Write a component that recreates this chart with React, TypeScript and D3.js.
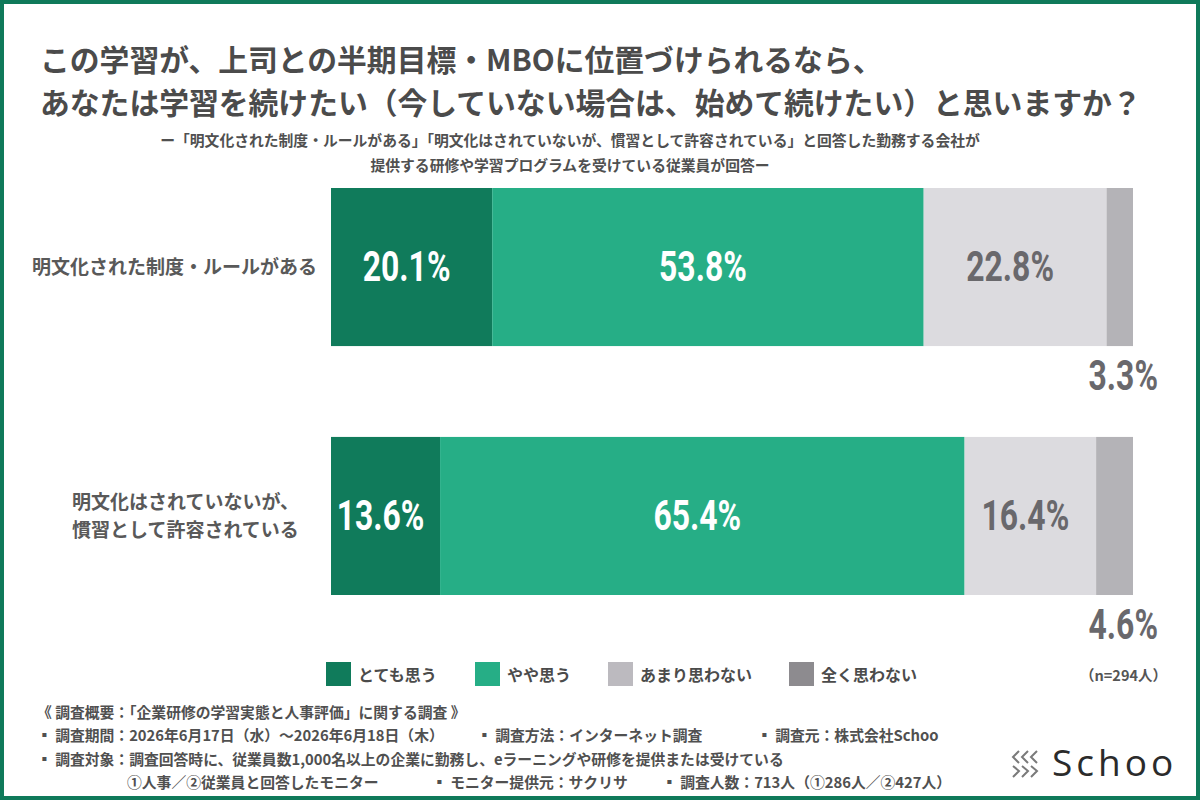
import React from "react";
import * as d3 from "d3";

const titleLines = [
  "この学習が、上司との半期目標・MBOに位置づけられるなら、",
  "あなたは学習を続けたい（今していない場合は、始めて続けたい）と思いますか？",
];
const subtitleLines = [
  "ー「明文化された制度・ルールがある」「明文化はされていないが、慣習として許容されている」と回答した勤務する会社が",
  "提供する研修や学習プログラムを受けている従業員が回答ー",
];
const categories = ["明文化された制度・ルールがある", "明文化はされていないが、慣習として許容されている"];
const categoryLines = [["明文化された制度・ルールがある"], ["明文化はされていないが、", "慣習として許容されている"]];
const seriesNames = ["とても思う", "やや思う", "あまり思わない", "全く思わない"];
const rowRule = [20.1, 53.8, 22.8, 3.3];
const rowCustom = [13.6, 65.4, 16.4, 4.6];
const rows = [rowRule, rowCustom];
const barColors = ["#107b5b", "#26ae86", "#dcdbdf", "#b4b3b7"];
const legendColors = ["#107b5b", "#26ae86", "#bcbabf", "#8d8b8f"];
const labelColors = ["#ffffff", "#ffffff", "#69686c", "#69686c"];
const sampleNote = "（n=294人）";
const footerLines = [
  [{ x: 37, t: "《 調査概要：「企業研修の学習実態と人事評価」に関する調査 》" }],
  [
    { x: 37, t: "▪ 調査期間：2026年6月17日（水）～2026年6月18日（木）" },
    { x: 477, t: "▪ 調査方法：インターネット調査" },
    { x: 757, t: "▪ 調査元：株式会社Schoo" },
  ],
  [{ x: 37, t: "▪ 調査対象：調査回答時に、従業員数1,000名以上の企業に勤務し、eラーニングや研修を提供または受けている" }],
  [
    { x: 127, t: "①人事／②従業員と回答したモニター" },
    { x: 432, t: "▪ モニター提供元：サクリサ" },
    { x: 662, t: "▪ 調査人数：713人（①286人／②427人）" },
  ],
];

const JP = "'Noto Sans CJK JP', 'Noto Sans', sans-serif";

export default function App() {
  const W = 1200;
  const H = 800;
  const x = d3.scaleLinear().domain([0, 100]).range([331, 1133]);
  const y = d3.scaleBand<string>().domain(categories).range([188, 595]).paddingInner(0.365).paddingOuter(0);
  const bw = y.bandwidth();

  const stacks = rows.map((vals) => {
    const cum = d3.cumsum(vals);
    return vals.map((v, i) => ({ v, x0: cum[i] - v, x1: cum[i], i }));
  });

  const legendX: number[] = [];
  let lx = 326;
  seriesNames.forEach((s) => {
    legendX.push(lx);
    lx += 32 + s.length * 16 + 37;
  });

  return (
    <div style={{ position: "absolute", left: 0, top: 0 }}>
      <svg width={W} height={H} style={{ display: "block", background: "#fff" }}>
        <rect x={2} y={2} width={W - 4} height={H - 4} fill="#fff" stroke="#0f7a5a" strokeWidth={4} />
        {titleLines.map((t, i) => (
          <text key={i} x={40} y={71 + i * 43} fontFamily={JP} fontWeight={700} fontSize={29.8} fill="#4b4b4b">
            {t}
          </text>
        ))}
        {subtitleLines.map((t, i) => (
          <text key={i} x={570} y={146 + i * 25} textAnchor="middle" fontFamily={JP} fontWeight={700} fontSize={14.8} fill="#505050">
            {t}
          </text>
        ))}
        {categories.map((c, ci) => {
          const lines = categoryLines[ci];
          const cy = (y(c) as number) + bw / 2;
          return (
            <g key={c}>
              {lines.map((l, li) => {
                const by = cy + 7 + (li - (lines.length - 1) / 2) * 28;
                return lines.length === 1 ? (
                  <text key={li} x={317} y={by} textAnchor="end" fontFamily={JP} fontWeight={700} fontSize={19} fill="#595959">
                    {l}
                  </text>
                ) : (
                  <text key={li} x={72} y={by} textAnchor="start" fontFamily={JP} fontWeight={700} fontSize={19} fill="#595959">
                    {l}
                  </text>
                );
              })}
            </g>
          );
        })}
        {categories.map((c, ci) => {
          const y0 = y(c) as number;
          return (
            <g key={c}>
              {stacks[ci].map((s) => (
                <rect key={s.i} x={x(s.x0)} y={y0} width={x(s.x1) - x(s.x0)} height={bw} fill={barColors[s.i]} />
              ))}
              {stacks[ci].map((s) => {
                const inside = s.v >= 10;
                const lbl = `${s.v.toFixed(1)}%`;
                if (inside) {
                  const cx = (x(s.x0) + x(s.x1)) / 2 - 5;
                  return (
                    <text
                      key={"l" + s.i}
                      transform={`translate(${cx},${y0 + bw / 2 + 14}) scale(0.76,1)`}
                      textAnchor="middle"
                      fontFamily="Roboto, sans-serif"
                      fontWeight={700}
                      fontSize={42}
                      fill={labelColors[s.i]}
                    >
                      {lbl}
                    </text>
                  );
                }
                return (
                  <text
                    key={"l" + s.i}
                    transform={`translate(${x(100) + 25},${y0 + bw + 44}) scale(0.76,1)`}
                    textAnchor="end"
                    fontFamily="Roboto, sans-serif"
                    fontWeight={700}
                    fontSize={42}
                    fill={labelColors[s.i]}
                  >
                    {lbl}
                  </text>
                );
              })}
            </g>
          );
        })}
        {seriesNames.map((s, i) => (
          <g key={s}>
            <rect x={legendX[i]} y={662} width={25} height={24} fill={legendColors[i]} />
            <text x={legendX[i] + 32} y={681} fontFamily={JP} fontWeight={700} fontSize={16} fill="#4b4b4b">
              {s}
            </text>
          </g>
        ))}
        <text x={1167} y={681} textAnchor="end" fontFamily={JP} fontWeight={700} fontSize={14.5} fill="#555">
          {sampleNote}
        </text>
        {footerLines.map((line, li) =>
          line.map((seg, si) => (
            <text key={li + "-" + si} x={seg.x} y={718 + li * 23.3} fontFamily={JP} fontWeight={700} fontSize={14.8} fill="#505050">
              {seg.t}
            </text>
          ))
        )}
        <g stroke="#7a7a7a" strokeWidth={2} fill="none">
          {[0, 1, 2].map((k) => (
            <path key={"a" + k} d={`M${1019 + k * 9},751 L${1013 + k * 9},757 L${1019 + k * 9},763`} />
          ))}
          {[0, 1, 2].map((k) => (
            <path key={"b" + k} d={`M${1013 + k * 9},766 L${1019 + k * 9},771 L${1013 + k * 9},777`} />
          ))}
        </g>
        <text x={1052} y={776} fontFamily="'Open Sans', Lato, sans-serif" fontWeight={400} fontSize={37} letterSpacing={4} fill="#2b2b2b">
          Schoo
        </text>
      </svg>
    </div>
  );
}
